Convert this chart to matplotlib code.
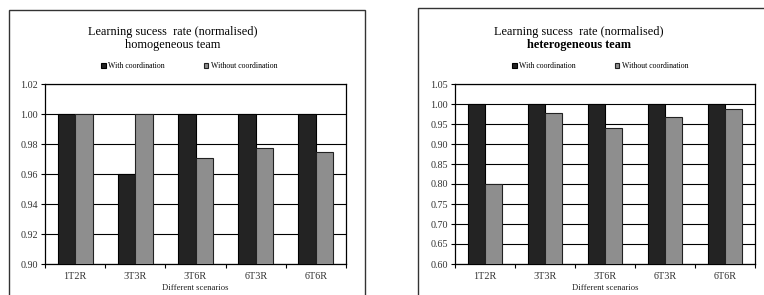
import numpy as np
import matplotlib
matplotlib.use('Agg')
import matplotlib.pyplot as plt
from matplotlib.patches import Rectangle

scenarios = ['1T2R', '3T3R', '3T6R', '6T3R', '6T6R']
series = ['With coordination', 'Without coordination']

homo_with = [1.00, 0.96, 1.00, 1.00, 1.00]
homo_without = [1.00, 1.00, 0.971, 0.9775, 0.975]
hetero_with = [1.00, 1.00, 1.00, 1.00, 1.00]
hetero_without = [0.80, 0.978, 0.94, 0.967, 0.987]

homo_ticks = [0.90, 0.92, 0.94, 0.96, 0.98, 1.00, 1.02]
hetero_ticks = [0.60, 0.65, 0.70, 0.75, 0.80, 0.85, 0.90, 0.95, 1.00, 1.05]

plt.rcParams['font.family'] = ['Liberation Serif', 'DejaVu Serif']

W, H = 764, 295
fig = plt.figure(figsize=(W / 100, H / 100), dpi=100)

# panel frames
fig.patches.append(Rectangle((9 / W, -0.1), (365 - 9) / W, 1.1 - 10 / H,
                             transform=fig.transFigure, fill=False,
                             edgecolor='#333333', linewidth=1.0))
fig.patches.append(Rectangle((418 / W, -0.1), 0.6, 1.1 - 8 / H,
                             transform=fig.transFigure, fill=False,
                             edgecolor='#333333', linewidth=1.0))

dark = '#232323'
grey = '#8e8e8e'


def panel(rect, with_v, without_v, ticks, title2, bold, title_x, leg_x):
    ax = fig.add_axes(rect)
    x = np.arange(len(scenarios))
    w = 0.29
    b1 = ax.bar(x - w / 2, with_v, w, color=dark, edgecolor='black', linewidth=0.8,
                zorder=3, label=series[0])
    b2 = ax.bar(x + w / 2, without_v, w, color=grey, edgecolor='#222222', linewidth=0.8,
                zorder=3, label=series[1])
    ax.set_ylim(ticks[0], ticks[-1])
    ax.set_xlim(-0.5, len(scenarios) - 0.5)
    ax.set_yticks(ticks)
    ax.set_yticklabels([f'{t:.2f}' for t in ticks], fontsize=7.3, color='#333333')
    ax.set_xticks(x)
    ax.set_xticklabels(scenarios, fontsize=7.3, color='#333333')
    ax.set_xticks(np.arange(len(scenarios) + 1) - 0.5, minor=True)
    ax.tick_params(axis='x', which='major', length=0, pad=6)
    ax.tick_params(axis='x', which='minor', length=3, width=0.8)
    ax.tick_params(axis='y', length=3, width=0.8, pad=2)
    ax.grid(axis='y', color='black', linewidth=0.8, zorder=0)
    for s in ax.spines.values():
        s.set_linewidth(0.9)
    ax.set_xlabel('Different scenarios', fontsize=6.2, color='#222222', labelpad=2)

    fig.text(title_x / W, 1 - 32 / H, 'Learning sucess  rate (normalised)',
             ha='center', va='center', fontsize=8.8)
    fig.text(title_x / W, 1 - 45 / H, title2, ha='center', va='center',
             fontsize=8.8, fontweight='bold' if bold else 'normal')
    fig.legend(handles=[b1, b2], labels=series, loc='center',
               bbox_to_anchor=(leg_x / W, 1 - 66 / H), ncol=2, frameon=False,
               fontsize=5.6, handlelength=0.6, handleheight=0.6, handletextpad=0.3,
               columnspacing=5.0)
    return ax


panel([45 / W, 31 / H, 301 / W, 180 / H], homo_with, homo_without, homo_ticks,
      'homogeneous team', False, 173, 189)
panel([455 / W, 31 / H, 300 / W, 180 / H], hetero_with, hetero_without, hetero_ticks,
      'heterogeneous team', True, 579, 600)

fig.savefig('out.png', dpi=100)
